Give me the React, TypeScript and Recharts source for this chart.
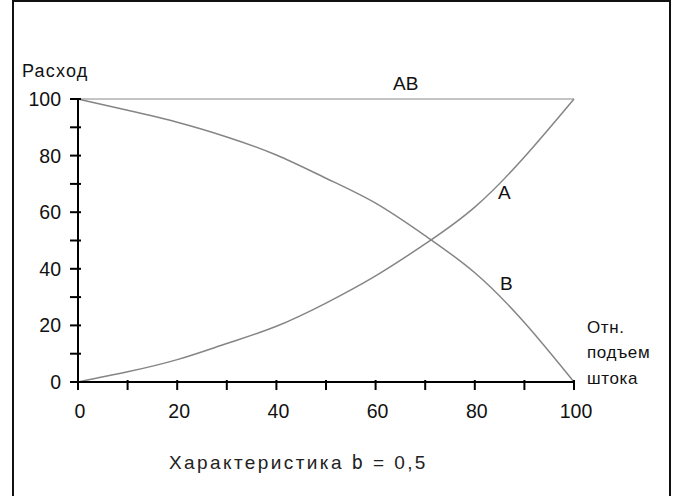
import React from "react";
import { LineChart, Line, XAxis, YAxis, Customized } from "recharts";

// relative stem lift, %
const liftPoints = [0, 10, 20, 30, 40, 50, 60, 70, 80, 90, 100];
// flow through port A, %
const flowA = [0, 3.6, 7.9, 13.6, 19.7, 27.9, 37.5, 48.8, 61.8, 79.5, 100];
// flow through port B, %
const flowB = [100, 96, 91.8, 86.6, 80.2, 72, 63.2, 51.7, 38.6, 21, 0];
// total flow AB, %
const flowAB = [100, 100, 100, 100, 100, 100, 100, 100, 100, 100, 100];

const xTicks = [0, 10, 20, 30, 40, 50, 60, 70, 80, 90, 100];
const yTicks = [0, 10, 20, 30, 40, 50, 60, 70, 80, 90, 100];

const data = liftPoints.map((x, i) => ({
  x,
  A: flowA[i],
  B: flowB[i],
  AB: flowAB[i]
}));

const FONT = "'Liberation Sans', Arial, sans-serif";

function YTick(props: any) {
  const { x, y, payload } = props;
  const v = payload.value;
  return (
    <g>
      <line x1={x + 9} x2={x + 20} y1={y} y2={y} stroke="#000" strokeWidth={2} />
      {v % 20 === 0 && (
        <text x={x} y={y} dy="0.36em" textAnchor="end" fontSize={19.5} fontFamily={FONT} fill="#111">
          {v}
        </text>
      )}
    </g>
  );
}

function XTick(props: any) {
  const { x, y, payload } = props;
  const v = payload.value;
  return (
    <g>
      <line x1={x} x2={x} y1={y - 24} y2={y - 14} stroke="#000" strokeWidth={2} />
      {v % 20 === 0 && (
        <text x={x + 2} y={y} dy="0.72em" textAnchor="middle" fontSize={19.5} fontFamily={FONT} fill="#111">
          {v}
        </text>
      )}
    </g>
  );
}

function Labels() {
  const t = { fontFamily: FONT, fill: "#111" };
  return (
    <g>
      <rect x={13} y={1} width={657} height={510} fill="none" stroke="#111" strokeWidth={2} />
      <text x={22} y={77} fontSize={18} letterSpacing={1.2} {...t}>Расход</text>
      <text x={393} y={90} fontSize={19} {...t}>AB</text>
      <text x={498} y={199} fontSize={19} {...t}>A</text>
      <text x={500} y={290} fontSize={19} {...t}>B</text>
      <text x={587} y={333} fontSize={17} letterSpacing={0.6} {...t}>Отн.</text>
      <text x={587} y={358} fontSize={17} letterSpacing={0.6} {...t}>подъем</text>
      <text x={587} y={384} fontSize={17} letterSpacing={0.6} {...t}>штока</text>
      <text x={169} y={469} fontSize={19} letterSpacing={2.4} {...t} fill="#222">
        <tspan>Характеристика </tspan>
        <tspan fontFamily="'DejaVu Sans Mono', monospace">b</tspan>
        <tspan> = 0,5</tspan>
      </text>
    </g>
  );
}

export default function App() {
  return (
    <div style={{ width: 674, height: 496, background: "#fff" }}>
      <style>{"body{margin:0}"}</style>
      <LineChart
        width={674}
        height={496}
        data={data}
        margin={{ top: 99, right: 100, bottom: 74, left: 18 }}
      >
        <XAxis
          dataKey="x"
          type="number"
          domain={[0, 100]}
          ticks={xTicks}
          tick={<XTick />}
          tickLine={false}
          tickSize={7}
          tickMargin={15}
          height={40}
          axisLine={{ stroke: "#000", strokeWidth: 2 }}
        />
        <YAxis
          type="number"
          domain={[0, 100]}
          ticks={yTicks}
          tick={<YTick />}
          tickLine={false}
          tickSize={7}
          tickMargin={10}
          width={60}
          axisLine={{ stroke: "#000", strokeWidth: 2 }}
        />
        <Line type="natural" dataKey="AB" stroke="#c4c4c4" strokeWidth={2} dot={false} isAnimationActive={false} />
        <Line type="natural" dataKey="A" stroke="#858585" strokeWidth={1.5} dot={false} isAnimationActive={false} />
        <Line type="natural" dataKey="B" stroke="#858585" strokeWidth={1.5} dot={false} isAnimationActive={false} />
        <Customized component={Labels} />
      </LineChart>
    </div>
  );
}
